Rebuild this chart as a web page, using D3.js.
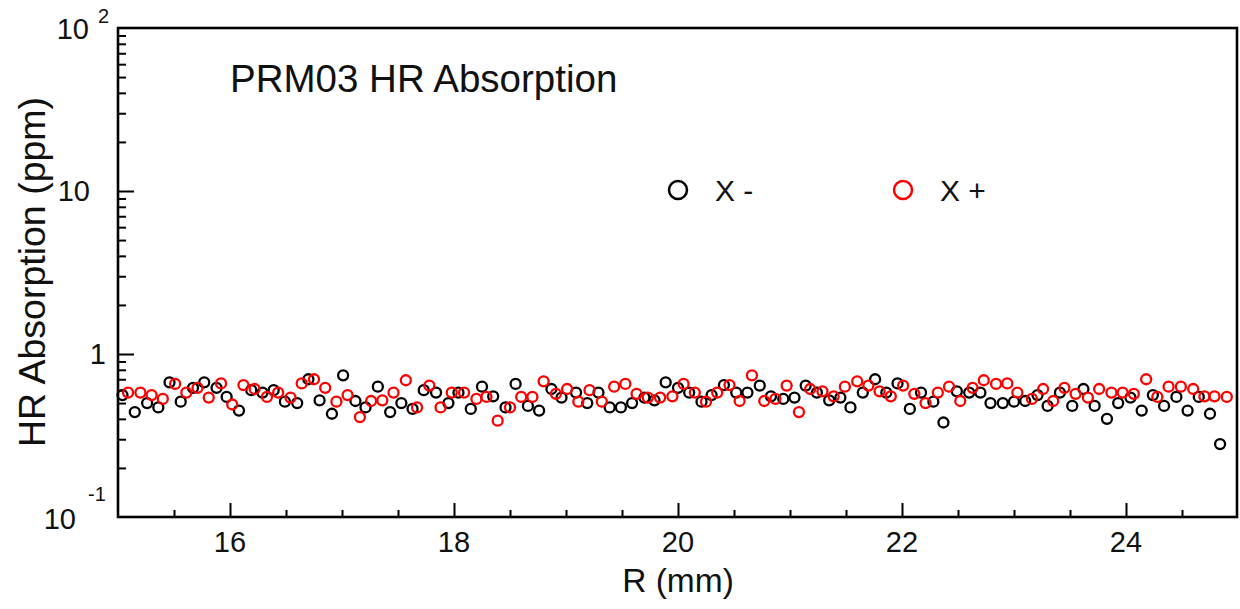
<!DOCTYPE html>
<html><head><meta charset="utf-8">
<script src="https://cdn.jsdelivr.net/npm/d3@7"></script>
<style>body{margin:0;background:#fff}svg{display:block}text{font-family:"Liberation Sans",Arial,sans-serif;fill:#111}</style>
</head><body>
<svg id="c" width="1240" height="609"></svg>
<script>
const seriesNames = ["X -", "X +"];
const seriesColors = ["#000000", "#ff0000"];
const title = "PRM03 HR Absorption";
const xTitle = "R (mm)";
const yTitle = "HR Absorption (ppm)";
const xTickValues = [16, 18, 20, 22, 24];
const yTickValues = [0.1, 1, 10, 100];
const yTickBase = ["10", "1", "10", "10"];
const yTickExp = ["-1", "", "", "2"];

const rMinus = [15.04,15.15,15.26,15.36,15.46,15.56,15.67,15.77,15.88,15.97,16.08,16.19,16.29,16.39,16.49,16.60,16.70,16.80,16.91,17.01,
17.12,17.21,17.32,17.43,17.53,17.63,17.73,17.84,17.95,18.04,18.15,18.25,18.35,18.46,18.55,18.66,18.76,18.87,18.96,
19.09,19.19,19.29,19.39,19.49,19.59,19.70,19.79,19.89,20.00,20.10,20.21,20.30,20.41,20.52,20.62,20.73,20.83,20.94,
21.04,21.14,21.24,21.35,21.45,21.54,21.65,21.76,21.86,21.96,22.07,22.17,22.28,22.37,22.49,22.60,22.70,22.79,22.90,23.00,
23.10,23.21,23.30,23.41,23.52,23.62,23.72,23.83,23.93,24.04,24.14,24.24,24.34,24.45,24.55,24.65,24.75,24.84];
const absMinus = [0.56,0.44,0.50,0.47,0.67,0.51,0.62,0.67,0.62,0.545,0.45,0.60,0.58,0.60,0.51,0.50,0.70,0.52,0.43,0.74,
0.515,0.47,0.63,0.44,0.50,0.46,0.60,0.58,0.50,0.58,0.46,0.63,0.55,0.47,0.655,0.48,0.45,0.61,0.54,
0.58,0.50,0.58,0.47,0.47,0.50,0.54,0.52,0.67,0.62,0.58,0.51,0.56,0.645,0.58,0.58,0.64,0.55,0.53,
0.54,0.64,0.58,0.52,0.54,0.47,0.58,0.70,0.58,0.66,0.46,0.58,0.51,0.38,0.59,0.58,0.58,0.50,0.50,0.51,
0.515,0.56,0.48,0.58,0.48,0.61,0.48,0.40,0.50,0.54,0.45,0.56,0.48,0.545,0.45,0.545,0.43,0.28];
const rPlus = [15.09,15.20,15.30,15.40,15.51,15.61,15.71,15.81,15.92,16.02,16.12,16.22,16.33,16.43,16.54,16.64,16.75,16.85,16.95,
17.05,17.16,17.26,17.36,17.46,17.57,17.67,17.78,17.88,17.98,18.09,18.20,18.29,18.39,18.50,18.60,18.70,18.80,18.91,19.01,
19.11,19.21,19.32,19.43,19.53,19.63,19.73,19.84,19.95,20.05,20.15,20.25,20.35,20.46,20.55,20.66,20.77,20.87,20.97,
21.08,21.18,21.29,21.39,21.49,21.60,21.70,21.80,21.90,22.01,22.11,22.21,22.32,22.42,22.52,22.63,22.73,22.84,22.94,23.03,
23.16,23.26,23.35,23.45,23.55,23.66,23.76,23.87,23.97,24.07,24.18,24.28,24.38,24.49,24.60,24.70,24.79,24.90];
const absPlus = [0.58,0.58,0.56,0.53,0.655,0.58,0.62,0.54,0.66,0.49,0.645,0.61,0.545,0.58,0.54,0.66,0.70,0.62,0.51,
0.56,0.41,0.515,0.52,0.58,0.69,0.47,0.64,0.47,0.58,0.58,0.53,0.545,0.39,0.47,0.545,0.545,0.68,0.57,0.61,
0.51,0.60,0.51,0.63,0.655,0.57,0.54,0.54,0.55,0.655,0.58,0.51,0.58,0.645,0.515,0.74,0.515,0.53,0.64,
0.44,0.61,0.59,0.55,0.63,0.68,0.64,0.59,0.55,0.64,0.57,0.50,0.58,0.63,0.515,0.62,0.69,0.655,0.66,0.58,
0.53,0.61,0.515,0.62,0.57,0.54,0.61,0.58,0.58,0.57,0.70,0.545,0.63,0.63,0.61,0.55,0.55,0.545];

const svg = d3.select("#c");
const L = 118, R = 1237, T = 28, B = 517;
const x = d3.scaleLinear().domain([15, 25]).range([L, L + 1120]);
const y = d3.scaleLog().domain([0.1, 100]).range([B, T]);

// frame
svg.append("rect").attr("x", L).attr("y", T).attr("width", R - L).attr("height", B - T)
  .attr("fill", "none").attr("stroke", "#000").attr("stroke-width", 2.6);

// x ticks (inward)
const xMinor = d3.range(15.5, 25, 0.5).filter(v => Math.abs(v - Math.round(v)) > 0.01 || Math.round(v) % 2 === 1);
const gx = svg.append("g").attr("transform", `translate(0,${B})`);
gx.call(d3.axisBottom(x).tickValues(xTickValues).tickSizeInner(-14).tickSizeOuter(0).tickFormat(""));
gx.select(".domain").remove();
gx.selectAll("line").attr("stroke-width", 2);
const gx2 = svg.append("g").attr("transform", `translate(0,${B})`);
gx2.call(d3.axisBottom(x).tickValues(xMinor).tickSizeInner(-7).tickSizeOuter(0).tickFormat(""));
gx2.select(".domain").remove();
gx2.selectAll("line").attr("stroke-width", 2);
svg.selectAll(".xl").data(xTickValues).enter().append("text")
  .attr("x", d => x(d)).attr("y", 552).attr("text-anchor", "middle").attr("font-size", 29).text(d => d);

// y ticks
const yMinor = [];
[0.1, 1, 10].forEach(b => { for (let k = 2; k <= 9; k++) yMinor.push(b * k); });
const gy = svg.append("g").attr("transform", `translate(${L},0)`);
gy.call(d3.axisLeft(y).tickValues(yTickValues.slice(1, 3)).tickSizeInner(-16).tickSizeOuter(0).tickFormat(""));
gy.select(".domain").remove();
gy.selectAll("line").attr("stroke-width", 2);
const gy2 = svg.append("g").attr("transform", `translate(${L},0)`);
gy2.call(d3.axisLeft(y).tickValues(yMinor).tickSizeInner(-8).tickSizeOuter(0).tickFormat(""));
gy2.select(".domain").remove();
gy2.selectAll("line").attr("stroke-width", 2);

// y tick labels
yTickValues.forEach((v, i) => {
  const yy = y(v);
  if (yTickExp[i] === "") {
    svg.append("text").attr("x", i === 1 ? 106 : 90).attr("y", yy + 10).attr("text-anchor", "end")
      .attr("font-size", 29).text(yTickBase[i]);
  } else if (yTickExp[i] === "2") {
    svg.append("text").attr("x", 89).attr("y", yy + 11).attr("text-anchor", "end").attr("font-size", 29).text(yTickBase[i]);
    svg.append("text").attr("x", 98).attr("y", yy - 5).attr("font-size", 20).text(yTickExp[i]);
  } else {
    svg.append("text").attr("x", 76).attr("y", yy + 12).attr("text-anchor", "end").attr("font-size", 29).text(yTickBase[i]);
    svg.append("text").attr("x", 88).attr("y", yy - 16).attr("font-size", 20).text(yTickExp[i]);
  }
});

// axis titles
svg.append("text").attr("x", 678).attr("y", 592).attr("text-anchor", "middle").attr("font-size", 33.5).text(xTitle);
svg.append("text").attr("transform", "translate(45,272) rotate(-90)").attr("text-anchor", "middle")
  .attr("font-size", 37.5).text(yTitle);
svg.append("text").attr("x", 230).attr("y", 92).attr("font-size", 38.5).text(title);

// data
const series = [
  rMinus.map((r, i) => ({ r, v: absMinus[i] })),
  rPlus.map((r, i) => ({ r, v: absPlus[i] }))
];
series.forEach((s, k) => {
  svg.append("g").selectAll("circle").data(s).enter().append("circle")
    .attr("cx", d => x(d.r)).attr("cy", d => y(d.v)).attr("r", 5)
    .attr("fill", "none").attr("stroke", seriesColors[k]).attr("stroke-width", 2.3);
});

// legend
const legX = [678, 903];
seriesNames.forEach((n, k) => {
  svg.append("circle").attr("cx", legX[k]).attr("cy", 190).attr("r", 9)
    .attr("fill", "none").attr("stroke", seriesColors[k]).attr("stroke-width", 2.5);
  svg.append("text").attr("x", legX[k] + 37).attr("y", 201).attr("font-size", 30).text(n);
});
</script>
</body></html>
